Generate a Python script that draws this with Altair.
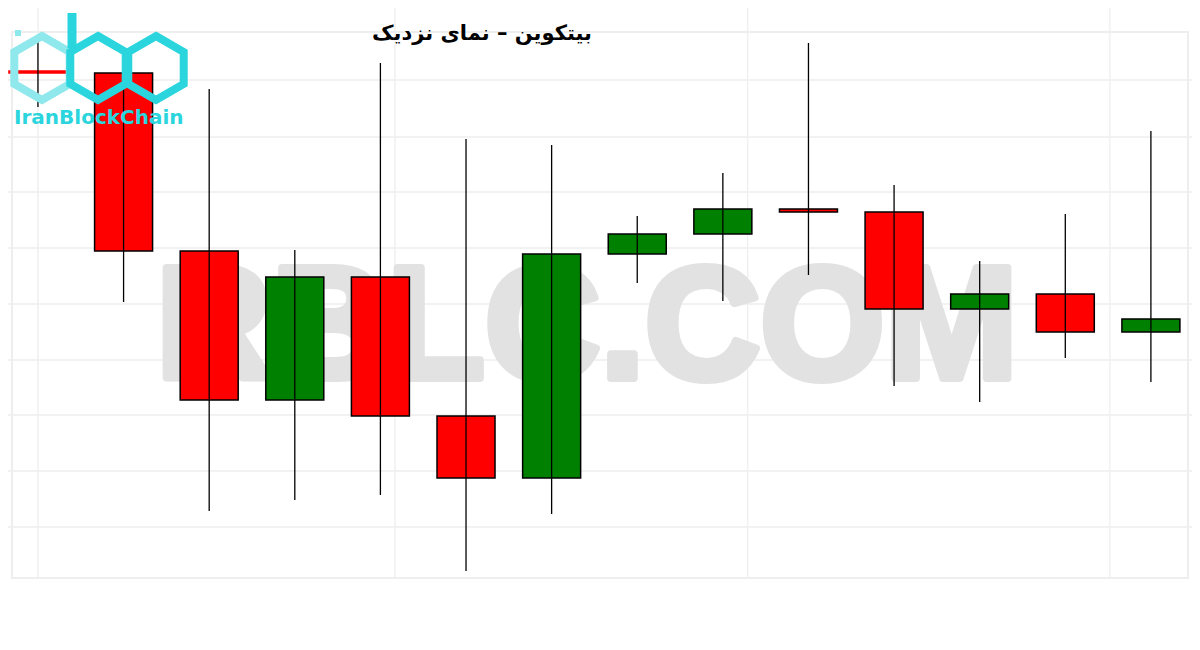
import altair as alt
import pandas as pd

# ---- data (arbitrary price units) ----
candle_idx = list(range(14))
opens  = [5290, 5270, 3490, 2000, 3230, 1840, 1220, 3460, 3660, 3910, 3880, 2910, 3060, 2680]
closes = [5270, 3490, 2000, 3230, 1840, 1220, 3460, 3660, 3910, 3880, 2910, 3060, 2680, 2810]
highs  = [5600, 5280, 5110, 3500, 5370, 4610, 4550, 3840, 4270, 5570, 4150, 3390, 3860, 4690]
lows   = [4930, 2980,  890, 1000, 1050,  290,  860, 3170, 2990, 3250, 2140, 1980, 2420, 2180]

grid_prices = [5200, 4630, 4080, 3520, 2960, 2400, 1850, 1290, 730]
grid_x = [0, 4.17, 8.29, 12.52]

title_text = "بیتکوین – نمای نزدیک"
watermark_text = "RBLC.COM"
logo_text = "IranBlockChain"

df = pd.DataFrame({"i": candle_idx, "open": opens, "close": closes,
                   "high": highs, "low": lows})
one = pd.DataFrame({"a": [0]})

W, H = 1184, 584
xs = alt.Scale(domain=[-0.35, 13.48], nice=False, zero=False, padding=0)
ys = alt.Scale(domain=[80, 5920], nice=False, zero=False, padding=0)

hgrid = alt.Chart(pd.DataFrame({"p": grid_prices})).mark_rule(
    color="#eeeeee", strokeWidth=1.5).encode(
    y=alt.Y("p:Q", scale=ys, axis=None))
vgrid = alt.Chart(pd.DataFrame({"g": grid_x})).mark_rule(
    color="#f0f0f0", strokeWidth=1.5).encode(
    x=alt.X("g:Q", scale=xs, axis=None), y=alt.value(0), y2=alt.value(570))

frame = alt.Chart(one).mark_rect(fill=None, stroke="#eeeeee", strokeWidth=2).encode(
    x=alt.value(4), x2=alt.value(1180), y=alt.value(24), y2=alt.value(570))

watermark = alt.Chart(one).mark_text(
    text=watermark_text, font="Liberation Sans", fontWeight="bold",
    fontSize=160, color="#e2e2e2", stroke="#e2e2e2", strokeWidth=8,
    strokeJoin="round", align="center", baseline="alphabetic"
).encode(x=alt.value(579), y=alt.value(370))

bodies = alt.Chart(df).mark_bar(size=58, strokeWidth=1.5).encode(
    x=alt.X("i:Q", scale=xs, axis=None),
    y=alt.Y("open:Q", scale=ys, axis=None),
    y2="close:Q",
    color=alt.condition(alt.datum.close >= alt.datum.open,
                        alt.value("#008000"), alt.value("#ff0000")),
    stroke=alt.condition(alt.datum.i == 0, alt.value("#ff0000"), alt.value("#000000")),
)

wicks = alt.Chart(df).mark_rule(color="#000000", strokeWidth=1.3).encode(
    x=alt.X("i:Q", scale=xs, axis=None),
    y=alt.Y("low:Q", scale=ys, axis=None),
    y2="high:Q",
)

HEX = "M0,-1L0.866,-0.5L0.866,0.5L0,1L-0.866,0.5L-0.866,-0.5Z"
hex1 = alt.Chart(one).mark_point(shape=HEX, filled=False, strokeWidth=8, size=4096,
                                 color="#8ee8ec", opacity=1).encode(
    x=alt.value(34), y=alt.value(60))
hex2 = alt.Chart(one).mark_point(shape=HEX, filled=False, strokeWidth=8, size=4096,
                                 color="#2ad5dd", opacity=1).encode(
    x=alt.value(90), y=alt.value(60))
hex3 = alt.Chart(one).mark_point(shape=HEX, filled=False, strokeWidth=8, size=4096,
                                 color="#2ad5dd", opacity=1).encode(
    x=alt.value(148), y=alt.value(60))
stem = alt.Chart(one).mark_rule(color="#2ad5dd", strokeWidth=9).encode(
    x=alt.value(64), y=alt.value(5), y2=alt.value(40))
dot = alt.Chart(one).mark_rule(color="#8ee8ec", strokeWidth=6).encode(
    x=alt.value(10), y=alt.value(22), y2=alt.value(28))
logo = alt.Chart(one).mark_text(
    text=logo_text, font="DejaVu Sans", fontWeight="bold", fontSize=20,
    color="#2ad5dd", align="left", baseline="alphabetic"
).encode(x=alt.value(6), y=alt.value(116))

title = alt.Chart(one).mark_text(
    text=title_text, font="DejaVu Sans", fontWeight="bold", fontSize=21,
    color="#000000", align="center", baseline="middle"
).encode(x=alt.value(474), y=alt.value(26))

chart = alt.layer(
    hgrid, vgrid, frame, watermark, bodies, wicks,
    hex1, hex2, hex3, stem, dot, logo, title
).properties(
    width=W, height=H,
    autosize=alt.AutoSizeParams(type="none"),
    padding=0,
    background="white",
).configure_view(stroke=None)

chart.save("out.html", embed_options={"renderer": "svg", "actions": False})
